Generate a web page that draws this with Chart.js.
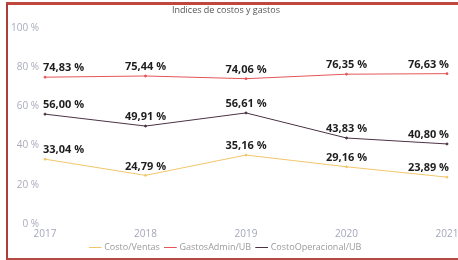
<!DOCTYPE html>
<html>
<head>
<meta charset="utf-8">
<script src="https://cdn.jsdelivr.net/npm/chart.js@4"></script>
<style>
  html, body { margin: 0; padding: 0; background: #fff; }
  body { width: 458px; height: 260px; overflow: hidden; position: relative; }
  .frame {
    position: absolute; left: 6px; top: 2px; width: 470px; height: 253px;
    border-top: 3px solid #c0473c; border-left: 2px solid #a8403a; border-bottom: 2px solid #b54a44;
  }
  .chart-box { position: absolute; left: 0; top: 0; width: 470px; height: 260px; }
</style>
</head>
<body>
<div class="chart-box"><canvas id="chart" width="470" height="260"></canvas></div>
<div class="frame"></div>
<script>
// data
const years = ["2017", "2018", "2019", "2020", "2021"];
const costoVentas = [33.04, 24.79, 35.16, 29.16, 23.89];
const gastosAdmin = [74.83, 75.44, 74.06, 76.35, 76.63];
const costoOperacional = [56.00, 49.91, 56.61, 43.83, 40.80];
const seriesNames = ["Costo/Ventas", "GastosAdmin/UB", "CostoOperacional/UB"];
const yTicks = [0, 20, 40, 60, 80, 100];

const fmt = (v) => v.toFixed(2).replace(".", ",") + " %";

// draws the value above each point, like the data labels in the original
const valueLabels = {
  id: "valueLabels",
  afterDatasetsDraw(chart) {
    const ctx = chart.ctx;
    ctx.save();
    ctx.font = "bold 11px 'Open Sans', sans-serif";
    ctx.fillStyle = "#1e1e1e";
    ctx.textBaseline = "middle";
    chart.data.datasets.forEach((ds, i) => {
      const meta = chart.getDatasetMeta(i);
      meta.data.forEach((pt, j) => {
        const last = j === meta.data.length - 1;
        ctx.textAlign = j === 0 ? "left" : last ? "right" : "center";
        ctx.fillText(fmt(ds.data[j]), pt.x + (j === 0 ? -2 : last ? 2 : 0), pt.y - 9);
      });
    });
    ctx.restore();
  }
};

// keep the legend band short so the plot reaches down like the original
const legendHeight = {
  id: "legendHeight",
  beforeInit(chart) {
    const fit = chart.legend.fit;
    chart.legend.fit = function () {
      fit.call(this);
      this.height = 23;
    };
  }
};

new Chart(document.getElementById("chart"), {
  type: "line",
  data: {
    labels: years,
    datasets: [
      { label: seriesNames[0], data: costoVentas, borderColor: "#f2c66b", backgroundColor: "#f2c66b" },
      { label: seriesNames[1], data: gastosAdmin, borderColor: "#e4555a", backgroundColor: "#e4555a" },
      { label: seriesNames[2], data: costoOperacional, borderColor: "#4b3344", backgroundColor: "#4b3344" },
    ],
  },
  options: {
    responsive: false,
    animation: false,
    devicePixelRatio: 1,
    elements: {
      line: { borderWidth: 1, tension: 0 },
      point: { radius: 1, borderWidth: 1 },
    },
    layout: { padding: { left: 5, right: 23, top: 3, bottom: 0 } },
    plugins: {
      title: {
        display: true,
        text: "Indices de costos y gastos",
        color: "#555",
        font: { family: "'Open Sans', sans-serif", size: 9, weight: "normal" },
        padding: { top: 2, bottom: 12 },
      },
      legend: {
        position: "bottom",
        labels: {
          usePointStyle: true,
          pointStyle: "line",
          boxWidth: 10,
          color: "#9a9a9a",
          font: { family: "'Open Sans', sans-serif", size: 9 },
          padding: 6,
        },
      },
      tooltip: { enabled: false },
    },
    scales: {
      x: {
        offset: false,
        grid: { display: false, drawTicks: false },
        border: { display: false },
        ticks: { color: "#a3a6ba", font: { family: "'Open Sans', sans-serif", size: 10 }, padding: 4, maxRotation: 0 },
        afterFit: (axis) => { axis.height = 13; },
      },
      y: {
        min: 0,
        max: 100,
        afterBuildTicks: (axis) => { axis.ticks = yTicks.map((v) => ({ value: v })); },
        grid: { display: false, drawTicks: false },
        border: { display: false },
        ticks: { color: "#a8abbb", font: { family: "'Open Sans', sans-serif", size: 10 }, padding: 6, callback: (v) => v + " %" },
      },
    },
  },
  plugins: [valueLabels, legendHeight],
});
</script>
</body>
</html>
